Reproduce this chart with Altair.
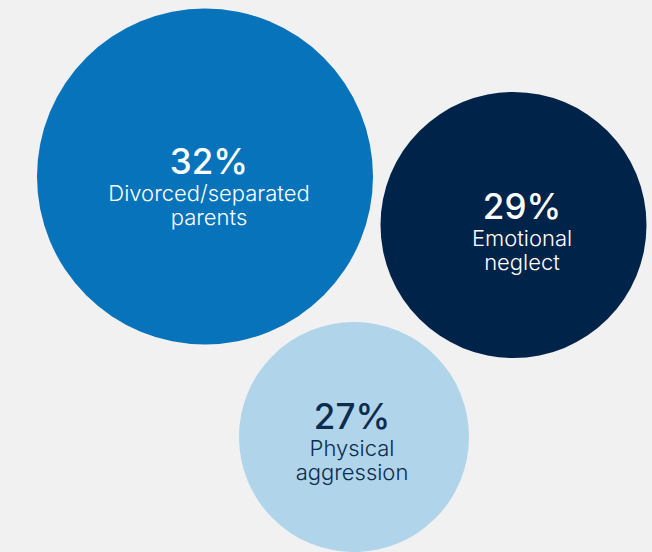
import altair as alt
import pandas as pd

# ---- data ----
categories = ["Divorced/separated\nparents", "Emotional\nneglect", "Physical\naggression"]
values = [32, 29, 27]
percent_labels = ["32%", "29%", "27%"]

# ---- bubble layout (pixel placement of the packed bubbles) ----
bubble_x = [205, 513.5, 354]
bubble_y = [176.5, 225, 437]
label_x = [209, 522, 352]
label_y = [174, 219, 429]

fill_colors = ["#0673ba", "#00234a", "#b0d4ea"]
text_colors = ["#ffffff", "#ffffff", "#0c2b4e"]

W, H = 652, 552
FONT = "Inter"

df = pd.DataFrame({
    "category": categories,
    "value": values,
    "pct": percent_labels,
    "bx": bubble_x,
    "by": bubble_y,
    "lx": label_x,
    "ly": label_y,
})

xs = alt.Scale(domain=[0, W], range=[0, W])
ys = alt.Scale(domain=[0, H], range=[0, H])

base = alt.Chart(df)

bubbles = base.mark_circle(opacity=1, stroke=None).encode(
    x=alt.X("bx:Q", scale=xs, axis=None),
    y=alt.Y("by:Q", scale=ys, axis=None),
    size=alt.Size("value:Q",
                  scale=alt.Scale(type="pow", exponent=6.25, domain=[27, 32],
                                  range=[52900, 112896]),
                  legend=None),
    color=alt.Color("category:N",
                    scale=alt.Scale(domain=categories, range=fill_colors),
                    legend=None),
)

pct_text = base.mark_text(
    font=FONT, fontSize=35, fontWeight=500, align="center", baseline="alphabetic"
).encode(
    x=alt.X("lx:Q", scale=xs, axis=None),
    y=alt.Y("ly:Q", scale=ys, axis=None),
    text="pct:N",
    color=alt.Color("category:N",
                    scale=alt.Scale(domain=categories, range=text_colors),
                    legend=None),
)

cat_text = base.mark_text(
    font=FONT, fontSize=22, fontWeight=300, align="center", baseline="alphabetic",
    lineBreak="\n", lineHeight=24, dy=27
).encode(
    x=alt.X("lx:Q", scale=xs, axis=None),
    y=alt.Y("ly:Q", scale=ys, axis=None),
    text="category:N",
    color=alt.Color("category:N",
                    scale=alt.Scale(domain=categories, range=text_colors),
                    legend=None),
)

chart = alt.layer(bubbles, pct_text, cat_text).resolve_scale(
    color="independent"
).properties(
    width=W, height=H, padding=0, background="#f1f1f1",
    autosize=alt.AutoSizeParams(type="none"),
).configure_view(stroke=None)

chart.save("out.html", embed_options={"renderer": "svg", "actions": False})
